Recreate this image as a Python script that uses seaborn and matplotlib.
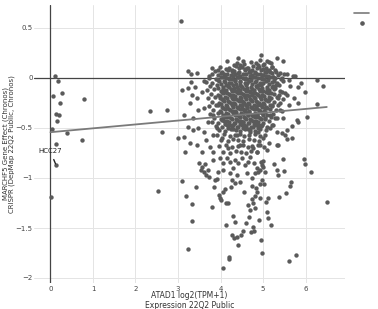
import matplotlib
matplotlib.use("Agg")
import pandas as pd
import matplotlib.pyplot as plt
import seaborn as sns
from matplotlib.lines import Line2D

# cell lines with almost no ATAD1 expression
low_x = [0.11, 0.18, 0.07, 0.28, 0.22, 0.80, 0.13, 0.20, 0.15, 0.04,
         0.40, 0.73, 0.14, 0.13, 0.01]
low_y = [0.02, -0.03, -0.18, -0.15, -0.25, -0.21, -0.36, -0.37, -0.43, -0.51,
         -0.55, -0.62, -0.66, -0.87, -1.19]

# isolated points
mid_x = [2.34, 2.73, 2.62, 2.54, 3.06, 6.51]
mid_y = [-0.33, -0.32, -0.54, -1.13, 0.57, -1.24]

# bottom tail of the cloud
tail_x = [3.24, 4.07, 4.19, 4.21, 4.42, 4.28, 4.32, 4.38, 4.48, 4.52,
          4.72, 4.79, 4.76, 4.95, 4.97, 5.19, 5.60, 5.77, 4.13, 3.32,
          4.34, 4.29, 4.60, 4.90]
tail_y = [-1.71, -1.90, -1.79, -1.81, -1.67, -1.57, -1.60, -1.59, -1.57, -1.53,
          -1.54, -1.53, -1.49, -1.62, -1.75, -1.47, -1.83, -1.77, -1.47, -1.43,
          -1.44, -1.38, -1.45, -1.42]

lower_x = [3.10, 3.42, 3.19, 3.34, 3.79, 3.85, 3.99, 3.97, 4.00, 4.05,
           4.11, 4.13, 4.18, 4.25, 4.34, 4.55, 4.65, 4.69, 4.68, 4.75,
           5.46, 5.96, 5.99, 6.12, 5.67, 5.64, 5.54, 5.38, 5.50, 5.32,
           5.35, 5.26, 4.93, 5.12, 5.07, 5.09, 5.12, 4.97, 4.93, 5.03,
           4.80, 4.84, 4.86, 4.95, 5.01, 4.89, 5.05, 4.97, 5.01, 4.85,
           4.93, 4.78, 4.80, 4.74, 4.82, 4.77]
lower_y = [-1.03, -1.09, -1.18, -1.26, -1.29, -1.09, -1.20, -1.17, -1.22, -1.14,
           -1.11, -1.25, -1.25, -1.09, -1.05, -1.14, -1.27, -1.32, -1.39, -1.21,
           -0.81, -0.81, -0.86, -0.94, -1.04, -1.08, -1.15, -1.19, -0.93, -0.92,
           -0.97, -0.86, -1.20, -1.20, -1.24, -1.34, -1.40, -1.02, -1.06, -1.06,
           -1.30, -1.10, -1.14, -0.84, -0.89, -0.94, -0.94, -0.87, -0.83, -0.90,
           -0.92, -0.85, -0.95, -1.08, -1.18, -1.25]

band_x = [3.50, 3.56, 3.63, 3.53, 3.60, 3.67, 3.74, 3.87, 3.91, 4.07,
          4.15, 4.22, 4.34, 4.42, 4.50, 4.58, 4.65, 4.69, 4.30, 4.22,
          4.38, 4.46, 4.63, 4.73, 4.07, 3.99, 3.83, 3.95, 4.26, 3.71]
band_y = [-0.85, -0.89, -0.86, -0.92, -0.94, -0.97, -0.99, -1.02, -1.01, -0.92,
          -0.80, -0.84, -0.82, -0.85, -0.80, -0.87, -0.84, -0.79, -0.90, -0.95,
          -0.97, -1.04, -0.95, -1.00, -0.85, -0.80, -0.82, -0.94, -1.02, -0.92]

side_x = [3.09, 3.24, 3.40, 3.32, 3.44, 3.56, 3.28, 3.48, 3.60, 3.13,
          3.36, 3.01, 3.13, 3.24, 3.36, 3.48, 3.60, 3.28, 3.44, 3.67,
          3.75, 3.16, 3.56, 3.83, 3.91, 3.71, 3.83, 3.95, 3.99, 4.11,
          4.15, 4.07, 4.03, 4.18, 3.83, 4.30, 4.38, 4.46, 4.54, 4.62,
          4.26, 4.42, 4.50, 4.69, 4.77, 4.73, 4.65, 4.34]
side_y = [-0.12, -0.10, -0.09, -0.17, -0.20, -0.14, -0.25, -0.32, -0.30, -0.37,
          -0.40, -0.60, -0.59, -0.49, -0.52, -0.50, -0.54, -0.65, -0.67, -0.62,
          -0.69, -0.74, -0.74, -0.57, -0.50, -0.44, -0.37, -0.27, -0.20, -0.14,
          -0.30, -0.40, -0.60, -0.70, -0.74, -0.47, -0.57, -0.67, -0.44, -0.30,
          -0.20, -0.14, -0.27, -0.54, -0.70, -0.17, -0.37, -0.34]

right_x = [5.28, 5.36, 5.20, 5.40, 5.16, 5.05, 4.97, 4.89, 5.01, 4.93,
           5.09, 4.85, 5.16, 5.28, 5.05, 5.13, 4.97, 4.89, 4.85, 4.81,
           4.93, 5.83, 5.99, 6.42, 5.83, 6.26, 6.03, 5.79, 5.83, 5.68,
           5.56, 5.44, 5.52, 5.68, 5.56, 5.32, 5.36, 5.13, 5.32, 5.24,
           5.48, 5.60, 5.56, 5.72, 5.64, 5.44]
right_y = [-0.10, -0.20, -0.27, -0.32, -0.37, -0.40, -0.47, -0.54, -0.60, -0.67,
           -0.72, -0.74, -0.50, -0.40, -0.30, -0.22, -0.17, -0.27, -0.37, -0.44,
           -0.34, -0.09, -0.14, -0.08, -0.25, -0.26, -0.39, -0.42, -0.44, -0.48,
           -0.52, -0.55, -0.57, -0.60, -0.61, -0.67, -0.67, -0.65, -0.54, -0.47,
           -0.40, -0.27, -0.17, -0.20, -0.08, -0.14]

top_x = [4.42, 4.16, 3.79, 3.24, 3.30, 3.45, 3.95, 4.32, 4.46, 4.54,
         4.62, 4.69, 4.26, 4.10, 3.30, 3.61, 3.74, 4.38,
         4.95, 4.93, 5.09, 5.14, 5.34, 5.48, 4.89, 5.01, 5.20, 5.28,
         5.16, 5.40, 5.56, 5.71, 5.05, 4.97, 5.24, 5.44, 5.60, 5.75,
         5.89, 6.28]
top_y = [0.20, 0.17, 0.10, 0.07, 0.04, 0.05, 0.08, 0.13, 0.13, 0.17,
         0.10, 0.06, 0.07, 0.03, -0.04, -0.03, 0.02, 0.01,
         0.23, 0.18, 0.17, 0.16, 0.20, 0.17, 0.13, 0.13, 0.11, 0.08,
         0.06, 0.05, 0.04, 0.02, 0.06, 0.03, 0.01, 0.00, -0.02, 0.02,
         -0.05, -0.02]

# dense core of the cloud, row by row
core_x = [
    4.38, 4.55, 4.71, 4.84, 5.02, 5.18,
    3.98, 4.20, 4.36, 4.50, 4.64, 4.77, 4.90, 5.06, 5.22,
    3.86, 4.04, 4.18, 4.31, 4.43, 4.58, 4.69, 4.82, 4.96, 5.10, 5.31,
    3.80, 3.93, 4.09, 4.24, 4.35, 4.47, 4.61, 4.74, 4.87, 4.99, 5.12, 5.35, 5.50,
    3.72, 3.89, 4.02, 4.14, 4.27, 4.40, 4.52, 4.63, 4.76, 4.89, 5.02, 5.16, 5.29, 5.43,
    3.66, 3.81, 3.97, 4.10, 4.21, 4.33, 4.45, 4.57, 4.68, 4.80, 4.93, 5.06, 5.20, 5.34, 5.48,
    3.75, 3.92, 4.05, 4.17, 4.29, 4.38, 4.49, 4.60, 4.72, 4.84, 4.96, 5.09, 5.23, 5.38,
    3.69, 3.85, 4.00, 4.12, 4.24, 4.35, 4.46, 4.55, 4.66, 4.78, 4.90, 5.01, 5.14, 5.27, 5.41,
    3.78, 3.94, 4.07, 4.19, 4.30, 4.41, 4.52, 4.62, 4.73, 4.85, 4.98, 5.11, 5.25, 5.37, 5.51,
    3.71, 3.88, 4.03, 4.15, 4.26, 4.37, 4.48, 4.58, 4.69, 4.81, 4.92, 5.04, 5.18, 5.32, 5.46,
    3.80, 3.96, 4.09, 4.21, 4.32, 4.43, 4.54, 4.64, 4.75, 4.87, 4.99, 5.12, 5.26, 5.40,
    3.73, 3.90, 4.04, 4.16, 4.28, 4.39, 4.50, 4.60, 4.71, 4.83, 4.95, 5.08, 5.22, 5.36,
    3.82, 3.98, 4.11, 4.23, 4.34, 4.45, 4.56, 4.67, 4.78, 4.90, 5.03, 5.16, 5.30, 5.44,
    3.76, 3.93, 4.06, 4.18, 4.30, 4.41, 4.52, 4.62, 4.73, 4.85, 4.97, 5.10, 5.24,
    3.85, 4.01, 4.13, 4.25, 4.36, 4.47, 4.58, 4.69, 4.80, 4.92, 5.05, 5.19, 5.33,
    3.79, 3.95, 4.08, 4.20, 4.32, 4.43, 4.54, 4.65, 4.76, 4.88, 5.00, 5.14,
    3.89, 4.03, 4.16, 4.28, 4.39, 4.50, 4.61, 4.72, 4.84, 4.96, 5.09, 5.21,
    3.96, 4.11, 4.24, 4.36, 4.47, 4.58, 4.70, 4.82, 4.94, 5.07,
    3.92, 4.09, 4.22, 4.33, 4.45, 4.56, 4.68, 4.80, 4.93, 5.05,
    4.01, 4.17, 4.29, 4.42, 4.54, 4.66, 4.78, 4.91,
    3.97, 4.14, 4.27, 4.40, 4.52, 4.64, 4.75, 4.88, 5.02,
    4.05, 4.23, 4.37, 4.49, 4.61, 4.72, 4.86,
]
core_y = [
    0.15, 0.14, 0.16, 0.15, 0.14, 0.15,
    0.11, 0.10, 0.12, 0.11, 0.10, 0.12, 0.11, 0.10, 0.11,
    0.07, 0.06, 0.08, 0.07, 0.06, 0.08, 0.07, 0.06, 0.08, 0.07, 0.06,
    0.04, 0.03, 0.04, 0.03, 0.04, 0.02, 0.04, 0.03, 0.04, 0.03, 0.02, 0.03, 0.04,
    0.00, -0.01, 0.01, 0.00, -0.01, 0.01, 0.00, -0.01, 0.01, 0.00, -0.01, 0.01, 0.00, -0.01,
    -0.04, -0.05, -0.03, -0.04, -0.05, -0.03, -0.04, -0.05, -0.03, -0.04, -0.05, -0.03, -0.04, -0.05, -0.03,
    -0.08, -0.07, -0.09, -0.08, -0.07, -0.09, -0.08, -0.07, -0.09, -0.08, -0.07, -0.09, -0.08, -0.07,
    -0.12, -0.11, -0.13, -0.12, -0.11, -0.13, -0.12, -0.11, -0.13, -0.12, -0.11, -0.13, -0.12, -0.11, -0.13,
    -0.16, -0.17, -0.15, -0.16, -0.17, -0.15, -0.16, -0.17, -0.15, -0.16, -0.17, -0.15, -0.16, -0.17, -0.15,
    -0.20, -0.19, -0.21, -0.20, -0.19, -0.21, -0.20, -0.19, -0.21, -0.20, -0.19, -0.21, -0.20, -0.19, -0.21,
    -0.24, -0.25, -0.23, -0.24, -0.25, -0.23, -0.24, -0.25, -0.23, -0.24, -0.25, -0.23, -0.24, -0.25,
    -0.28, -0.27, -0.29, -0.28, -0.27, -0.29, -0.28, -0.27, -0.29, -0.28, -0.27, -0.29, -0.28, -0.27,
    -0.32, -0.33, -0.31, -0.32, -0.33, -0.31, -0.32, -0.33, -0.31, -0.32, -0.33, -0.31, -0.32, -0.33,
    -0.36, -0.35, -0.37, -0.36, -0.35, -0.37, -0.36, -0.35, -0.37, -0.36, -0.35, -0.37, -0.36,
    -0.40, -0.41, -0.39, -0.40, -0.41, -0.39, -0.40, -0.41, -0.39, -0.40, -0.41, -0.39, -0.40,
    -0.44, -0.45, -0.43, -0.44, -0.45, -0.43, -0.44, -0.45, -0.43, -0.44, -0.45, -0.43,
    -0.48, -0.49, -0.47, -0.48, -0.49, -0.47, -0.48, -0.49, -0.47, -0.48, -0.49, -0.47,
    -0.52, -0.53, -0.51, -0.52, -0.53, -0.51, -0.52, -0.53, -0.51, -0.52,
    -0.57, -0.56, -0.58, -0.57, -0.56, -0.58, -0.57, -0.56, -0.58, -0.57,
    -0.62, -0.63, -0.61, -0.62, -0.63, -0.61, -0.62, -0.63,
    -0.68, -0.67, -0.69, -0.68, -0.67, -0.69, -0.68, -0.67, -0.69,
    -0.74, -0.75, -0.73, -0.74, -0.75, -0.73, -0.74,
]

# the densest part, between the rows above
dense_x = [
    4.12, 4.27, 4.43, 4.57, 4.73, 4.86, 5.00, 5.15,
    4.00, 4.15, 4.29, 4.41, 4.53, 4.67, 4.80, 4.93, 5.06, 5.22,
    4.06, 4.19, 4.30, 4.44, 4.57, 4.70, 4.82, 4.95, 5.08, 5.24,
    3.95, 4.08, 4.21, 4.34, 4.46, 4.58, 4.71, 4.83, 4.97, 5.11, 5.26,
    4.02, 4.13, 4.25, 4.36, 4.47, 4.62, 4.75, 4.88, 5.00, 5.14, 5.30,
    3.94, 4.07, 4.20, 4.31, 4.42, 4.51, 4.63, 4.74, 4.86, 4.97, 5.10, 5.20,
    4.04, 4.16, 4.28, 4.38, 4.49, 4.60, 4.70, 4.82, 4.94, 5.06, 5.19,
    3.99, 4.11, 4.23, 4.35, 4.46, 4.56, 4.66, 4.78, 4.89, 5.02, 5.15,
    4.06, 4.18, 4.30, 4.41, 4.51, 4.61, 4.72, 4.84, 4.95, 5.08,
    4.00, 4.12, 4.24, 4.35, 4.46, 4.56, 4.67, 4.79, 4.91, 5.03, 5.17,
    4.07, 4.19, 4.30, 4.41, 4.52, 4.62, 4.73, 4.85, 4.97, 5.10,
    4.02, 4.14, 4.26, 4.37, 4.48, 4.58, 4.68, 4.80, 4.92, 5.05,
    4.09, 4.21, 4.33, 4.44, 4.55, 4.65, 4.76, 4.88, 5.00,
    4.04, 4.15, 4.27, 4.38, 4.49, 4.60, 4.71, 4.83, 4.95,
    4.10, 4.22, 4.34, 4.45, 4.56, 4.67, 4.79, 4.91,
    4.18, 4.30, 4.42, 4.53, 4.64, 4.76, 4.88,
]
dense_y = [
    0.09, 0.08, 0.10, 0.09, 0.08, 0.10, 0.09, 0.08,
    0.05, 0.04, 0.06, 0.05, 0.04, 0.06, 0.05, 0.04, 0.06, 0.05,
    0.015, 0.005, 0.02, 0.015, 0.005, 0.02, 0.015, 0.005, 0.02, 0.015,
    -0.02, -0.03, -0.01, -0.02, -0.03, -0.01, -0.02, -0.03, -0.01, -0.02, -0.03,
    -0.06, -0.07, -0.05, -0.06, -0.07, -0.05, -0.06, -0.07, -0.05, -0.06, -0.07,
    -0.10, -0.11, -0.09, -0.10, -0.11, -0.09, -0.10, -0.11, -0.09, -0.10, -0.11, -0.09,
    -0.14, -0.15, -0.13, -0.14, -0.15, -0.13, -0.14, -0.15, -0.13, -0.14, -0.15,
    -0.18, -0.19, -0.17, -0.18, -0.19, -0.17, -0.18, -0.19, -0.17, -0.18, -0.19,
    -0.22, -0.23, -0.21, -0.22, -0.23, -0.21, -0.22, -0.23, -0.21, -0.22,
    -0.26, -0.27, -0.25, -0.26, -0.27, -0.25, -0.26, -0.27, -0.25, -0.26, -0.27,
    -0.30, -0.31, -0.29, -0.30, -0.31, -0.29, -0.30, -0.31, -0.29, -0.30,
    -0.34, -0.35, -0.33, -0.34, -0.35, -0.33, -0.34, -0.35, -0.33, -0.34,
    -0.38, -0.39, -0.37, -0.38, -0.39, -0.37, -0.38, -0.39, -0.37,
    -0.42, -0.43, -0.41, -0.42, -0.43, -0.41, -0.42, -0.43, -0.41,
    -0.46, -0.47, -0.45, -0.46, -0.47, -0.45, -0.46, -0.47,
    -0.50, -0.51, -0.49, -0.50, -0.51, -0.49, -0.50,
]

# linear fit drawn across the data
fit_x = [0.0, 6.5]
fit_y = [-0.542, -0.290]

x_ticks = [0, 1, 2, 3, 4, 5, 6]
y_ticks = [0.5, 0, -0.5, -1, -1.5, -2]
y_tick_labels = ["0.5", "0", "\u22120.5", "\u22121", "\u22121.5", "\u22122"]

xs = (low_x + mid_x + tail_x + lower_x + band_x + side_x + right_x + top_x
      + core_x + dense_x)
ys = (low_y + mid_y + tail_y + lower_y + band_y + side_y + right_y + top_y
      + core_y + dense_y)
assert len(xs) == len(ys)
df = pd.DataFrame({"expr": xs, "effect": ys})
fit = pd.DataFrame({"expr": fit_x, "effect": fit_y})

sns.set_style("white")
plt.rcParams["font.family"] = ["DejaVu Sans"]

fig = plt.figure(figsize=(3.78, 3.09), dpi=100)
ax = fig.add_axes([34 / 378, 1 - 283 / 309, 311 / 378, 278 / 309])

ax.set_axisbelow(True)
ax.grid(True, color="#e4e4e4", lw=0.7)
ax.axhline(0, color="#444444", lw=0.9, zorder=1)
ax.axvline(0, color="#444444", lw=0.9, zorder=1)

sns.scatterplot(data=df, x="expr", y="effect", color="#5a5a5a", s=10,
                linewidth=0, ax=ax, zorder=2, legend=False)
sns.lineplot(data=fit, x="expr", y="effect", color="#7a7a7a", lw=1.3,
             ax=ax, zorder=3, legend=False)

ax.annotate("HCC27", xy=(0.13, -0.87), xytext=(-0.01, -0.727),
            ha="center", va="center", fontsize=5, color="#222222",
            arrowprops=dict(arrowstyle="-", color="#222222", lw=1.0,
                            shrinkA=2, shrinkB=1), zorder=4)

ax.set_xlim(-0.388, 6.929)
ax.set_ylim(-2.05, 0.73)
ax.set_xticks(x_ticks)
ax.set_yticks(y_ticks)
ax.set_yticklabels(y_tick_labels)
ax.tick_params(axis="both", length=0, labelsize=5, colors="#444444")
ax.tick_params(axis="x", pad=2)
ax.tick_params(axis="y", pad=1)
for s in ax.spines.values():
    s.set_visible(False)

ax.set_xlabel("ATAD1 log2(TPM+1)\nExpression 22Q2 Public", fontsize=5.5,
              color="#333333", va="top")
ax.xaxis.set_label_coords(0.5, -0.029)
ax.set_ylabel("MARCHF5 Gene Effect (Chronos)\nCRISPR (DepMap 22Q2 Public, Chronos)",
              fontsize=5, color="#333333", linespacing=1.05)
ax.yaxis.set_label_coords(-0.06, 0.5)

handles = [Line2D([0], [0], color="#7a7a7a", lw=1.2),
           Line2D([0], [0], marker="o", color="#5a5a5a", ls="", ms=2.3)]
ax.legend(handles, ["", ""], loc="upper left", bbox_to_anchor=(1.02, 0.99),
          frameon=False, fontsize=5, handlelength=2.2, handletextpad=0,
          labelspacing=0.5, borderaxespad=0)

fig.savefig("out.png", dpi=100)
